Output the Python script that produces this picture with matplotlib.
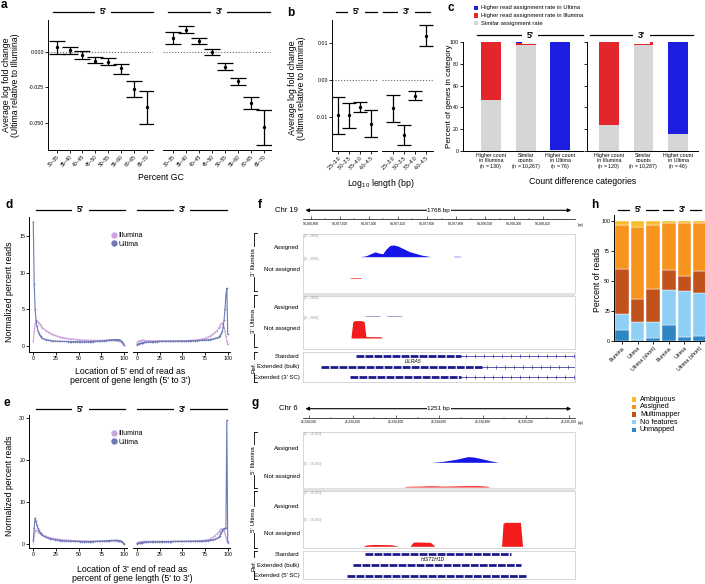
import numpy as np
import matplotlib
matplotlib.use('Agg')
import matplotlib.pyplot as plt
from matplotlib.lines import Line2D
from matplotlib.patches import Rectangle, FancyArrowPatch

plt.rcParams['font.family'] = ['Liberation Sans', 'DejaVu Sans']
plt.rcParams['mathtext.fontset'] = 'custom'
plt.rcParams['mathtext.rm'] = 'Liberation Sans'
plt.rcParams['mathtext.it'] = 'Liberation Sans:italic'

# ---------------- data ----------------
GC_CATS = ['30–35', '35–40', '40–45', '45–50', '50–55', '55–60', '60–65', '65–70']
A5_MEAN = [0.0033, 0.0014, -0.0023, -0.0061, -0.0068, -0.0115, -0.0260, -0.0390]
A5_LO = [-0.0012, -0.0014, -0.0051, -0.0080, -0.0094, -0.0152, -0.0317, -0.0505]
A5_HI = [0.0077, 0.0037, 0.0007, -0.0033, -0.0040, -0.0086, -0.0204, -0.0272]
A3_MEAN = [0.0099, 0.0158, 0.0078, 0.0000, -0.0106, -0.0205, -0.0356, -0.0530]
A3_LO = [0.0059, 0.0134, 0.0057, -0.0019, -0.0130, -0.0234, -0.0403, -0.0658]
A3_HI = [0.0142, 0.0182, 0.0099, 0.0021, -0.0080, -0.0180, -0.0318, -0.0408]

LEN_CATS = ['2.5–3.0', '3.0–3.5', '3.5–4.0', '4.0–4.5']
B5_MEAN = [-0.0094, -0.0095, -0.0072, -0.0117]
B5_LO = [-0.0144, -0.0129, -0.0086, -0.0152]
B5_HI = [-0.0045, -0.0060, -0.0059, -0.0081]
B3_MEAN = [-0.0076, -0.0148, -0.0042, 0.0121]
B3_LO = [-0.0113, -0.0176, -0.0053, 0.0092]
B3_HI = [-0.0041, -0.0122, -0.0030, 0.0149]

C5_LABELS = ['Higher count\nin Illumina\n($\\it{n}$ = 130)', 'Similar\ncounts\n($\\it{n}$ = 10,267)',
             'Higher count\nin Ultima\n($\\it{n}$ = 76)']
C3_LABELS = ['Higher count\nin Illumina\n($\\it{n}$ = 120)', 'Similar\ncounts\n($\\it{n}$ = 10,287)',
             'Higher count\nin Ultima\n($\\it{n}$ = 46)']
C5_GRAY = [46.5, 97.5, 1.0]
C5_RED = [53.5, 2.0, 0.0]
C5_BLUE = [0.0, 0.5, 99.0]
C3_GRAY = [24.3, 97.5, 15.3]
C3_RED = [75.7, 2.5, 0.0]
C3_BLUE = [0.0, 0.0, 84.7]
C_LEGEND = ['Higher read assignment rate in Ultima', 'Higher read assignment rate in Illumina',
            'Similar assignment rate']

POS = list(range(0, 11)) + list(range(12, 90, 2)) + list(range(90, 101))
D5_ILL = [0.6, 2.0, 3.0, 3.4, 3.4, 3.3, 3.1, 2.95, 2.8, 2.65, 2.5,
          2.3, 2.1, 1.95, 1.8, 1.65, 1.55, 1.45, 1.35, 1.27, 1.2, 1.14, 1.09, 1.05, 1.0, 0.97, 0.94,
          0.91, 0.88, 0.86, 0.84, 0.82, 0.80, 0.79, 0.78, 0.77, 0.76, 0.75, 0.75, 0.74, 0.74, 0.74,
          0.74, 0.75, 0.76, 0.77, 0.78, 0.79, 0.80, 0.80,
          0.80, 0.80, 0.79, 0.78, 0.76, 0.72, 0.66, 0.58, 0.45, 0.30, 0.12]
D5_ULT = [17.0, 8.5, 5.0, 3.6, 2.7, 2.1, 1.75, 1.5, 1.3, 1.15, 1.05,
          0.95, 0.87, 0.80, 0.75, 0.71, 0.68, 0.66, 0.64, 0.63, 0.62, 0.61, 0.60, 0.60, 0.59, 0.59,
          0.58, 0.58, 0.58, 0.58, 0.57, 0.57, 0.57, 0.57, 0.57, 0.57, 0.58, 0.58, 0.59, 0.60, 0.61,
          0.63, 0.65, 0.67, 0.70, 0.73, 0.76, 0.79, 0.82, 0.84,
          0.85, 0.86, 0.86, 0.85, 0.84, 0.81, 0.76, 0.68, 0.55, 0.35, 0.08]
D3_ILL = [0.45, 0.6, 0.68, 0.72, 0.74, 0.75, 0.75, 0.75, 0.74, 0.73, 0.72,
          0.71, 0.70, 0.70, 0.69, 0.69, 0.69, 0.69, 0.68, 0.68, 0.68, 0.68, 0.68, 0.68, 0.68, 0.69,
          0.69, 0.69, 0.70, 0.70, 0.70, 0.71, 0.72, 0.73, 0.74, 0.75, 0.77, 0.79, 0.82, 0.86, 0.90,
          0.95, 1.0, 1.1, 1.2, 1.3, 1.45, 1.65, 1.85, 2.1,
          2.4, 2.65, 2.9, 3.1, 3.1, 2.9, 2.5, 2.0, 1.3, 0.6, 0.2]
D3_ULT = [0.15, 0.22, 0.28, 0.33, 0.37, 0.40, 0.43, 0.45, 0.47, 0.49, 0.50,
          0.52, 0.54, 0.56, 0.57, 0.58, 0.59, 0.60, 0.61, 0.61, 0.62, 0.62, 0.63, 0.63, 0.63, 0.64,
          0.64, 0.64, 0.65, 0.65, 0.66, 0.66, 0.67, 0.68, 0.68, 0.69, 0.70, 0.71, 0.72, 0.74, 0.75,
          0.77, 0.79, 0.81, 0.84, 0.87, 0.91, 0.96, 1.02, 1.10,
          1.2, 1.32, 1.48, 1.7, 2.0, 2.6, 3.6, 5.1, 7.0, 7.9, 1.6]
E5_ILL = [0.5, 2.0, 3.2, 3.3, 3.1, 2.9, 2.75, 2.6, 2.45, 2.3, 2.2,
          2.0, 1.85, 1.7, 1.57, 1.46, 1.37, 1.29, 1.22, 1.16, 1.10, 1.05, 1.0, 0.96, 0.93, 0.90,
          0.87, 0.84, 0.82, 0.80, 0.78, 0.76, 0.75, 0.74, 0.73, 0.72, 0.71, 0.71, 0.70, 0.70, 0.70,
          0.71, 0.72, 0.73, 0.75, 0.77, 0.79, 0.81, 0.83, 0.84,
          0.85, 0.85, 0.84, 0.83, 0.81, 0.78, 0.73, 0.65, 0.52, 0.35, 0.12]
E5_ULT = [1.0, 3.8, 6.2, 5.4, 4.5, 3.8, 3.3, 2.9, 2.6, 2.35, 2.15,
          1.85, 1.62, 1.45, 1.32, 1.2, 1.1, 1.02, 0.95, 0.90, 0.85, 0.81, 0.78, 0.75, 0.72, 0.70,
          0.68, 0.66, 0.65, 0.64, 0.63, 0.62, 0.61, 0.61, 0.60, 0.60, 0.60, 0.61, 0.62, 0.63, 0.65,
          0.67, 0.70, 0.73, 0.76, 0.80, 0.83, 0.86, 0.88, 0.89,
          0.90, 0.90, 0.89, 0.88, 0.86, 0.82, 0.77, 0.69, 0.56, 0.38, 0.10]
E3_ILL = [0.30, 0.42, 0.50, 0.55, 0.58, 0.60, 0.62, 0.63, 0.64, 0.64, 0.65,
          0.65, 0.65, 0.65, 0.65, 0.65, 0.65, 0.65, 0.65, 0.65, 0.65, 0.65, 0.65, 0.65, 0.66, 0.66,
          0.66, 0.66, 0.67, 0.67, 0.67, 0.68, 0.68, 0.69, 0.70, 0.71, 0.72, 0.74, 0.76, 0.78, 0.81,
          0.85, 0.90, 0.97, 1.06, 1.18, 1.35, 1.70, 2.05, 2.45,
          2.9, 3.2, 3.5, 3.65, 3.65, 3.5, 3.1, 2.5, 1.7, 0.8, 0.25]
E3_ULT = [0.10, 0.16, 0.22, 0.27, 0.31, 0.35, 0.38, 0.41, 0.43, 0.45, 0.47,
          0.50, 0.52, 0.54, 0.56, 0.57, 0.58, 0.59, 0.60, 0.60, 0.61, 0.61, 0.62, 0.62, 0.62, 0.63,
          0.63, 0.63, 0.64, 0.64, 0.65, 0.65, 0.66, 0.66, 0.67, 0.68, 0.69, 0.70, 0.71, 0.72, 0.74,
          0.76, 0.78, 0.81, 0.85, 0.90, 0.97, 1.06, 1.18, 1.35,
          1.6, 1.9, 2.3, 2.75, 3.2, 3.5, 3.7, 3.8, 3.85, 29.5, 0.6]

# panel f (LILRA5 locus, chr19)
F_RANGE = (54306745, 54308618)
F_TICKS = list(range(54306800, 54308401, 200))
F_ILL_A_BP = [54307139, 54307180, 54307210, 54307242, 54307270, 54307295, 54307320, 54307345,
              54307370, 54307400, 54307440, 54307480, 54307520, 54307560, 54307600, 54307625,
              54307780, 54307790, 54307825, 54307835]
F_ILL_A_VAL = [0, 80, 250, 430, 320, 260, 700, 1000, 1050, 950, 700, 450, 300, 150, 60, 0, 0, 40, 40, 0]
F_ILL_N_BP = [54307065, 54307080, 54307140, 54307155]
F_ILL_N_VAL = [0, 60, 60, 0]
F_ULT_A_BP = [54307170, 54307175, 54307275, 54307280, 54307320, 54307325, 54307425, 54307430]
F_ULT_A_VAL = [0, 50, 50, 0, 0, 50, 50, 0]
F_ULT_N_BP = [54307077, 54307089, 54307100, 54307155, 54307168, 54307180, 54307185, 54307285, 54307290]
F_ULT_N_VAL = [0, 1450, 1580, 1580, 1450, 130, 130, 110, 0]
F_REF_ROWS = ['Standard', 'Extended (bulk)', "Extended (3' SC)"]
F_REF_START = [54307112, 54306869, 54307070]
F_REF_END = [54307832, 54307976, 54307832]

# panel g (HIST1H1D locus, chr6)
G_RANGE = (26233970, 26235227)
G_TICKS = list(range(26234000, 26235201, 200))
G_ILL_A_BP = [26234565, 26234620, 26234680, 26234720, 26234734, 26234760, 26234800, 26234840, 26234873]
G_ILL_A_VAL = [0, 600, 1800, 3000, 3350, 3100, 2000, 800, 0]
G_ILL_N_BP = [26234437, 26234450, 26234520, 26234560, 26234620, 26234700, 26234780, 26234820, 26234834]
G_ILL_N_VAL = [0, 500, 700, 900, 600, 900, 1000, 600, 0]
G_ULT_N_BP = [26234247, 26234265, 26234300, 26234380, 26234411, 26234465, 26234480, 26234500,
              26234560, 26234580, 26234888, 26234895, 26234905, 26234975, 26234985]
G_ULT_N_VAL = [0, 900, 1200, 1000, 0, 0, 2600, 2800, 2500, 0, 0, 14800, 15400, 15400, 0]
G_REF_ROWS = ['Standard', 'Extended (bulk)', "Extended (5' SC)"]
G_REF_START = [26234257, 26234203, 26234173]
G_REF_END = [26234930, 26234976, 26235000]

H_CATS = ['Illumina', 'Ultima', 'Ultima (short)']
H_CLASSES = ['Unmapped', 'No features', 'Multimapper', 'Assigned', 'Ambiguous']
H5 = {'Unmapped': [9.1, 1.4, 2.8], 'No features': [13.3, 14.6, 13.2], 'Multimapper': [37.3, 18.8, 27.4],
      'Assigned': [37.3, 60.0, 53.6], 'Ambiguous': [3.0, 5.2, 3.0]}
H3 = {'Unmapped': [13.5, 3.6, 4.1], 'No features': [28.8, 38.1, 36.0], 'Multimapper': [17.1, 12.2, 18.7],
      'Assigned': [39.2, 44.7, 39.8], 'Ambiguous': [1.4, 1.4, 1.4]}
H_COLORS = {'Ambiguous': '#F9BC2C', 'Assigned': '#F7941E', 'Multimapper': '#C2521C',
            'No features': '#8ED0F5', 'Unmapped': '#2E87C4'}

# ---------------- helpers ----------------
W, H = 705, 584
fig = plt.figure(figsize=(W / 100, H / 100), dpi=100)
TICK = 3.8
LAB = 6.3


def ax_px(x0, y0, x1, y1):
    return fig.add_axes([x0 / W, 1 - y1 / H, (x1 - x0) / W, (y1 - y0) / H])


def ftext(x, y, s, **kw):
    return fig.text(x / W, 1 - y / H, s, **kw)


def fline(x0, x1, y0, y1=None, **kw):
    if y1 is None:
        y1 = y0
    fig.add_artist(Line2D([x0 / W, x1 / W], [1 - y0 / H, 1 - y1 / H], **kw))


def frect(x0, y0, x1, y1, **kw):
    fig.add_artist(Rectangle((x0 / W, 1 - y1 / H), (x1 - x0) / W, (y1 - y0) / H,
                             transform=fig.transFigure, **kw))


def header(x0, x1, y, s):
    fline(x0, x1, y, color='black', lw=0.9)
    ftext((x0 + x1) / 2, y, s, ha='center', va='center', fontsize=6.5, fontweight='bold',
          bbox=dict(facecolor='white', edgecolor='none', pad=3.5))


def style(ax, left=True):
    for s in ['top', 'right']:
        ax.spines[s].set_visible(False)
    ax.spines['left'].set_visible(left)
    for s in ['left', 'bottom']:
        ax.spines[s].set_linewidth(0.7)
    ax.tick_params(labelsize=TICK, length=2, width=0.6, pad=1)
    if not left:
        ax.tick_params(axis='y', left=False, labelleft=False)
    ax.patch.set_alpha(0)


def letter(x, y, s):
    ftext(x, y, s, fontsize=8.5, fontweight='bold', ha='left', va='center')


def err_panel(ax, cats, mean, lo, hi, xlim, ylim, left, cap, yticks, fmt):
    x = np.arange(len(cats))
    m = np.array(mean)
    ax.axhline(0, color='#666666', lw=0.8, ls=(0, (1, 1.6)), zorder=0)
    ax.errorbar(x, m, yerr=[m - np.array(lo), np.array(hi) - m], fmt='o', ms=1.4, color='black',
                ecolor='black', elinewidth=0.9, capsize=cap, capthick=0.9)
    ax.set_xlim(*xlim)
    ax.set_ylim(*ylim)
    ax.set_xticks(x)
    ax.set_xticklabels(cats, rotation=45, ha='right', rotation_mode='anchor')
    ax.set_yticks(yticks)
    ax.set_yticklabels([fmt.format(v) for v in yticks])
    style(ax, left)
    ax.tick_params(axis='x', labelsize=3.6)


# ---------------- panel a ----------------
letter(1, 5, 'a')
ylA = (-0.069, 0.0225)
ax = ax_px(48, 20, 153, 150)
err_panel(ax, GC_CATS, A5_MEAN, A5_LO, A5_HI, (-0.68, 7.49), ylA, True, 6, [-0.05, -0.025, 0.0], '{:.3f}')
ax = ax_px(163, 20, 271, 150)
err_panel(ax, GC_CATS, A3_MEAN, A3_LO, A3_HI, (-0.77, 7.54), ylA, False, 6, [-0.05, -0.025, 0.0], '{:.3f}')
header(53, 153, 11.7, "5'")
header(168, 270, 11.7, "3'")
ftext(11, 85, 'Average log fold change\n(Ultima relative to Illumina)', rotation=90, ha='center',
      va='center', fontsize=LAB, linespacing=1.0)
ftext(161, 178, 'Percent GC', ha='center', va='center', fontsize=LAB)

# ---------------- panel b ----------------
letter(287, 13, 'b')
ylB = (-0.0191, 0.0163)
ax = ax_px(332, 20, 377, 151)
err_panel(ax, LEN_CATS, B5_MEAN, B5_LO, B5_HI, (-0.58, 3.58), ylB, True, 5, [-0.01, 0.0, 0.01], '{:.2f}')
ax = ax_px(382, 20, 433, 151)
err_panel(ax, LEN_CATS, B3_MEAN, B3_LO, B3_HI, (-1.0, 3.64), ylB, False, 5, [-0.01, 0.0, 0.01], '{:.2f}')
header(336, 377, 11.7, "5'")
header(383, 430, 11.7, "3'")
ftext(297, 88, 'Average log fold change\n(Ultima relative to Illumina)', rotation=90, ha='center',
      va='center', fontsize=LAB, linespacing=1.0)
ftext(381, 184, 'Log$_{10}$ length (bp)', ha='center', va='center', fontsize=LAB)

# ---------------- panel c ----------------
letter(448, 8, 'c')
C_COLS = {'gray': '#D6D6D6', 'red': '#E3262B', 'blue': '#1E1EE0'}


def cpanel(ax, labels, gray, red, blue, xlim, left):
    x = np.arange(len(labels))
    g = np.array(gray)
    r = np.array(red)
    b = np.array(blue)
    ax.bar(x, g, 0.57, color=C_COLS['gray'], lw=0)
    ax.bar(x, r, 0.57, bottom=g, color=C_COLS['red'], lw=0)
    ax.bar(x, b, 0.57, bottom=g + r, color=C_COLS['blue'], lw=0)
    ax.set_xlim(*xlim)
    ax.set_ylim(0, 100.5)
    ax.set_xticks(x)
    ax.set_xticklabels(labels, fontsize=4.2, linespacing=0.9)
    ax.set_yticks([0, 20, 40, 60, 80, 100])
    style(ax, True)
    ax.tick_params(axis='x', length=0, pad=1.5)
    if not left:
        ax.tick_params(axis='y', labelleft=False)


ax = ax_px(463, 41.7, 583, 151)
cpanel(ax, C5_LABELS, C5_GRAY, C5_RED, C5_BLUE, (-0.80, 2.65), True)
ax = ax_px(587, 41.7, 698, 151)
cpanel(ax, C3_LABELS, C3_GRAY, C3_RED, C3_BLUE, (-0.63, 2.57), False)
header(477, 583, 35, "5'")
header(590, 693, 35, "3'")
ftext(449.5, 96, 'Percent of genes in category', rotation=90, ha='center', va='center', fontsize=5.9)
ftext(583, 181.7, 'Count difference categories', ha='center', va='center', fontsize=LAB)
for i, (lab, col) in enumerate(zip(C_LEGEND, ['blue', 'red', 'gray'])):
    yy = 8.0 + i * 7.6
    frect(474, yy - 2.2, 478.4, yy + 2.2, facecolor=C_COLS[col], edgecolor='none')
    ftext(481, yy, lab, ha='left', va='center', fontsize=4.2)

# ---------------- panels d & e ----------------
ILL_C = '#CBA6DE'
ULT_C = '#6D7AB7'


def profile(ax, ill, ult, xlim, ylim, yticks, left):
    ax.plot(POS, ill, '-o', color=ILL_C, lw=0.8, ms=1.2, mew=0)
    ax.plot(POS, ult, '-o', color=ULT_C, lw=0.8, ms=1.2, mew=0)
    ax.set_xlim(*xlim)
    ax.set_ylim(*ylim)
    ax.set_xticks([0, 25, 50, 75, 100])
    ax.set_yticks(yticks)
    style(ax, left)


def prof_legend(ax, x, y):
    hs = [Line2D([], [], marker='o', ls='none', color=ILL_C, ms=3.6, label='Illumina'),
          Line2D([], [], marker='o', ls='none', color=ULT_C, ms=3.6, label='Ultima')]
    ax.legend(handles=hs, loc='upper left', bbox_to_anchor=(x / W, 1 - y / H), bbox_transform=fig.transFigure,
              fontsize=5.0, frameon=False, handletextpad=0.1, labelspacing=0.25, borderpad=0,
              handlelength=1.0, borderaxespad=0)


letter(6, 205, 'd')
ax = ax_px(29.3, 216.7, 126.7, 351.7)
profile(ax, D5_ILL, D5_ULT, (-4.4, 103), (-0.8, 17.7), [0, 5, 10, 15], True)
prof_legend(ax, 111, 232)
ax = ax_px(133.3, 216.7, 230, 351.7)
profile(ax, D3_ILL, D3_ULT, (-4.1, 102.5), (-0.8, 17.7), [0, 5, 10, 15], False)
header(36, 125, 210, "5'")
header(137, 227, 210, "3'")
ftext(10, 292, 'Normalized percent reads', rotation=90, ha='center', va='center', fontsize=LAB)
ftext(130, 376, "Location of 5' end of read as\npercent of gene length (5' to 3')", ha='center',
      va='center', fontsize=LAB, linespacing=1.05)

letter(3, 403, 'e')
ax = ax_px(29.3, 415, 126.7, 548.3)
profile(ax, E5_ILL, E5_ULT, (-4.4, 103), (-1.0, 30.8), [0, 10, 20, 30], True)
prof_legend(ax, 111, 430)
ax = ax_px(133.3, 415, 230, 548.3)
profile(ax, E3_ILL, E3_ULT, (-4.1, 102.5), (-1.0, 30.8), [0, 10, 20, 30], False)
header(36, 125, 409, "5'")
header(137, 227, 409, "3'")
ftext(10, 486, 'Normalized percent reads', rotation=90, ha='center', va='center', fontsize=LAB)
ftext(132, 574, "Location of 3' end of read as\npercent of gene length (5' to 3')", ha='center',
      va='center', fontsize=LAB, linespacing=1.05)

# ---------------- panels f & g (browser tracks) ----------------
TX0, TX1 = 302.7, 575
BOX_C = '#C8C8C8'
BLUE_T = '#1515E8'
RED_T = '#F21C1C'


def ruler(y, rng, ticks, chrom, span):
    ftext(TX0 - 5, y - 9, chrom, ha='right', va='center', fontsize=5.5)
    fig.add_artist(FancyArrowPatch((TX0 / W, 1 - (y - 9) / H), ((TX1 - 1) / W, 1 - (y - 9) / H),
                                   transform=fig.transFigure, arrowstyle='<|-|>', mutation_scale=5,
                                   lw=0.8, color='black'))
    ftext((TX0 + TX1) / 2, y - 9, span, ha='center', va='center', fontsize=4.5,
          bbox=dict(facecolor='white', edgecolor='none', pad=0.6))
    ax = ax_px(TX0, y - 4, TX1, y)
    ax.set_xlim(*rng)
    for s in ['top', 'left', 'right']:
        ax.spines[s].set_visible(False)
    ax.spines['bottom'].set_linewidth(0.5)
    ax.set_yticks([])
    ax.set_xticks(ticks)
    ax.set_xticklabels([f'{t:,}' for t in ticks], fontsize=2.3)
    ax.set_xticks([t + 100 for t in ticks[:-1]], minor=True)
    ax.tick_params(axis='x', which='major', direction='in', length=2.2, width=0.4, pad=1.3)
    ax.tick_params(axis='x', which='minor', direction='in', length=1.0, width=0.3)
    ax.patch.set_alpha(0)
    ftext(TX1 + 3, y + 5.3, '(bp)', ha='left', va='center', fontsize=2.3)


def track(ytop, ybot, bp, val, color, rng, vmax, rlabel, name):
    ax = ax_px(TX0, ytop, TX1, ybot)
    if bp is not None:
        ax.fill_between(bp, val, 0, color=color, lw=0)
    ax.set_xlim(*rng)
    ax.set_ylim(0, vmax)
    ax.axis('off')
    ax.axhline(0, color='#8C8C8C', lw=0.6)
    ftext(TX0 + 1.5, ytop + 2.2, rlabel, ha='left', va='center', fontsize=2.4, color='#9A9A9A')
    ftext(TX0 - 3, (ytop + ybot) / 2 + 1.5, name, ha='right', va='center', fontsize=4.4)


def group_box(y0, y1):
    frect(TX0, y0, TX1, y1, facecolor='none', edgecolor=BOX_C, lw=0.5)


def bracket(y0, y1, label):
    x = 253.5
    fline(x, x, y0, y1, color='black', lw=0.6)
    fline(x, x + 3, y0, y0, color='black', lw=0.6)
    fline(x, x + 3, y1, y1, color='black', lw=0.6)
    ftext(x, (y0 + y1) / 2, label, rotation=90, ha='center', va='center', fontsize=4.5,
          bbox=dict(facecolor='white', edgecolor='none', pad=0.6))


def ref_box(y0, y1, rows, rows_y, starts, ends, rng, intron, gene, gene_xy):
    ax = ax_px(TX0, y0, TX1, y1)
    ax.set_xlim(*rng)
    ax.set_ylim(y1, y0)
    for s in ax.spines.values():
        s.set_color(BOX_C)
        s.set_linewidth(0.5)
    ax.set_xticks([])
    ax.set_yticks([])
    for name, yy, s, e in zip(rows, rows_y, starts, ends):
        if intron:
            ax.plot([e, rng[1]], [yy, yy], color='#1A1A8C', lw=0.5)
            ticks = np.arange(e + 35, rng[1], 62)
            ax.plot(ticks, [yy] * len(ticks), ls='none', marker='|', ms=2.2, mew=0.4, color='#1A1A8C')
        ax.plot([s, e], [yy, yy], color='#1A1A8C', lw=2.0, ls=(0, (2.8, 0.45)), solid_capstyle='butt',
                dash_capstyle='butt')
        ftext(TX0 - 3, yy, name, ha='right', va='center', fontsize=4.3)
    ftext(gene_xy[0], gene_xy[1], gene, ha='center', va='center', fontsize=3.6, style='italic')


# panel f
ftext(258, 205, 'f', fontsize=8.5, fontweight='bold', ha='left', va='center')
ruler(219.3, F_RANGE, F_TICKS, 'Chr 19', '1768 bp')
group_box(234.3, 293.3)
track(234.3, 256.7, F_ILL_A_BP, F_ILL_A_VAL, BLUE_T, F_RANGE, 2000, '[0 - 2000]', 'Assigned')
track(256.7, 278.3, F_ILL_N_BP, F_ILL_N_VAL, RED_T, F_RANGE, 2000, '[0 - 2000]', 'Not assigned')
frect(TX0, 293.3, TX1, 295.7, facecolor='#E2E2E2', edgecolor='none')
group_box(295.7, 349.3)
track(295.7, 316, F_ULT_A_BP, F_ULT_A_VAL, '#5555B0', F_RANGE, 2000, '[0 - 2000]', 'Assigned')
track(316, 338, F_ULT_N_BP, F_ULT_N_VAL, RED_T, F_RANGE, 2000, '[0 - 2000]', 'Not assigned')
ref_box(352.3, 381.7, F_REF_ROWS, [356, 366.7, 377.3], F_REF_START, F_REF_END, F_RANGE, True,
        'LILRA5', (413.3, 361.7))
bracket(233.3, 291, "3' Illumina")
bracket(295, 347, "3' Ultima")
bracket(352, 381.7, 'Ref.')

# panel g
ftext(251, 403, 'g', fontsize=8.5, fontweight='bold', ha='left', va='center')
ruler(417.7, G_RANGE, G_TICKS, 'Chr 6', '1251 bp')
group_box(431.7, 488.3)
track(431.7, 462.3, G_ILL_A_BP, G_ILL_A_VAL, BLUE_T, G_RANGE, 18000, '[0 - 18,000]', 'Assigned')
track(462.3, 487, G_ILL_N_BP, G_ILL_N_VAL, RED_T, G_RANGE, 18000, '[0 - 18,000]', 'Not assigned')
frect(TX0, 488.3, TX1, 491, facecolor='#E2E2E2', edgecolor='none')
group_box(491, 548.3)
track(491, 518.3, None, None, BLUE_T, G_RANGE, 18000, '[0 - 18,000]', 'Assigned')
track(518.3, 546.3, G_ULT_N_BP, G_ULT_N_VAL, RED_T, G_RANGE, 18000, '[0 - 18,000]', 'Not assigned')
ref_box(550.7, 579, G_REF_ROWS, [554.3, 565, 575.7], G_REF_START, G_REF_END, G_RANGE, False,
        'HIST1H1D', (433.3, 559.5))
bracket(431.7, 488.3, "5' Illumina")
bracket(491, 548.3, "5' Ultima")
bracket(550.7, 579, 'Ref.')

# ---------------- panel h ----------------
letter(591, 205, 'h')


def hpanel(ax, data, xlim, left):
    x = np.arange(len(H_CATS))
    bottom = np.zeros(len(H_CATS))
    for cls in H_CLASSES:
        v = np.array(data[cls])
        ax.bar(x, v, 0.88, bottom=bottom, color=H_COLORS[cls], edgecolor='white', lw=0.3)
        bottom += v
    ax.set_xlim(*xlim)
    ax.set_ylim(0, 105)
    ax.set_xticks(x)
    ax.set_xticklabels(H_CATS, rotation=45, ha='right', rotation_mode='anchor', fontsize=4.2)
    ax.set_yticks([0, 25, 50, 75, 100])
    style(ax, left)


ax = ax_px(614.3, 215, 661, 341.3)
hpanel(ax, H5, (-0.5, 2.5), True)
ax = ax_px(662.3, 215, 705, 341.3)
hpanel(ax, H3, (-0.45, 2.35), False)
header(618, 658, 210, "5'")
header(663, 701, 210, "3'")
ftext(597, 280, 'Percent of reads', rotation=90, ha='center', va='center', fontsize=LAB)
for i, cls in enumerate(['Ambiguous', 'Assigned', 'Multimapper', 'No features', 'Unmapped']):
    yy = 399.3 + i * 7.65
    frect(631.5, yy - 2.2, 635.9, yy + 2.2, facecolor=H_COLORS[cls], edgecolor='none')
    ftext(640, yy, cls, ha='left', va='center', fontsize=5.2)

fig.savefig('out.png', dpi=100)
